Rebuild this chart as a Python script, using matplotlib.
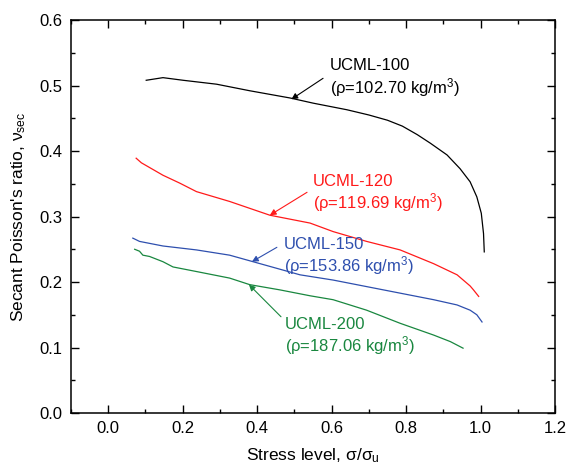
import matplotlib
matplotlib.use("Agg")
import matplotlib.pyplot as plt
from matplotlib.ticker import MultipleLocator

plt.rcParams["font.family"] = ["Liberation Sans", "DejaVu Sans"]
plt.rcParams["mathtext.default"] = "regular"

x100 = [0.102, 0.147, 0.201, 0.291, 0.380, 0.488, 0.551, 0.641, 0.700, 0.750, 0.790,
        0.830, 0.865, 0.910, 0.945, 0.972, 0.990, 1.002, 1.008, 1.010]
y100 = [0.508, 0.512, 0.508, 0.502, 0.492, 0.481, 0.473, 0.463, 0.455, 0.447, 0.438,
        0.425, 0.412, 0.394, 0.373, 0.353, 0.330, 0.305, 0.274, 0.246]

x120 = [0.075, 0.089, 0.147, 0.192, 0.237, 0.326, 0.434, 0.542, 0.604, 0.694, 0.784,
        0.874, 0.937, 0.972, 0.981, 0.995]
y120 = [0.389, 0.382, 0.363, 0.351, 0.338, 0.323, 0.302, 0.290, 0.277, 0.262, 0.249,
        0.228, 0.211, 0.194, 0.188, 0.178]

x150 = [0.066, 0.084, 0.147, 0.237, 0.326, 0.389, 0.515, 0.604, 0.694, 0.784, 0.874,
        0.937, 0.972, 0.990, 1.004]
y150 = [0.267, 0.262, 0.255, 0.249, 0.241, 0.231, 0.211, 0.203, 0.193, 0.183, 0.173,
        0.165, 0.157, 0.150, 0.139]

x200 = [0.071, 0.084, 0.093, 0.111, 0.147, 0.174, 0.237, 0.326, 0.380, 0.461, 0.542,
        0.604, 0.694, 0.784, 0.874, 0.919, 0.953]
y200 = [0.250, 0.247, 0.241, 0.239, 0.231, 0.223, 0.216, 0.206, 0.196, 0.188, 0.179,
        0.173, 0.157, 0.137, 0.119, 0.109, 0.099]

names = ["UCML-100", "UCML-120", "UCML-150", "UCML-200"]
densities = ["102.70", "119.69", "153.86", "187.06"]
colors = ["black", "#ff1a1a", "#2e4fae", "#19873f"]
# arrow tip on curve, label anchor and arrow tail (data coords)
arrow_tips = [(0.492, 0.479), (0.434, 0.302), (0.386, 0.231), (0.378, 0.196)]
text_pos = [(0.596, 0.511), (0.550, 0.334), (0.472, 0.238), (0.474, 0.116)]
arrow_starts = [(0.577, 0.511), (0.534, 0.337), (0.453, 0.253), (0.464, 0.147)]

fig = plt.figure(figsize=(5.69, 4.73), dpi=100)
ax = fig.add_axes([0.1248, 0.1268, 0.8506, 0.8309])

for xs, ys, c in zip([x100, x120, x150, x200], [y100, y120, y150, y200], colors):
    ax.plot(xs, ys, color=c, lw=0.9)

for name, rho, c, tip, tpos, start in zip(names, densities, colors, arrow_tips,
                                          text_pos, arrow_starts):
    ax.text(tpos[0], tpos[1], f"{name}\n(ρ={rho} kg/m$^{{3}}$)", color=c,
            fontsize=12, ha="left", va="center", linespacing=1.15)
    ax.annotate("", xy=tip, xytext=start,
                arrowprops=dict(arrowstyle="-|>", color=c, lw=0.8,
                                mutation_scale=9, shrinkA=0, shrinkB=0))

ax.set_xlim(-0.1, 1.2)
ax.set_ylim(0.0, 0.6)
ax.xaxis.set_major_locator(MultipleLocator(0.2))
ax.xaxis.set_minor_locator(MultipleLocator(0.1))
ax.yaxis.set_major_locator(MultipleLocator(0.1))
ax.yaxis.set_minor_locator(MultipleLocator(0.05))
ax.xaxis.set_major_formatter(lambda v, p: f"{v:.1f}")
ax.yaxis.set_major_formatter(lambda v, p: f"{v:.1f}")
ax.tick_params(which="both", direction="in", top=True, right=True,
               labelsize=12, width=1.0)
ax.tick_params(which="major", length=6, pad=6)
ax.tick_params(which="minor", length=3)
for s in ax.spines.values():
    s.set_linewidth(1.1)

ax.set_xlabel("Stress level, σ/σ$_{u}$", fontsize=12.5, labelpad=7)
ax.set_ylabel("Secant Poisson's ratio, ν$_{sec}$", fontsize=12.5, labelpad=8)

fig.savefig("out.png", dpi=100)
